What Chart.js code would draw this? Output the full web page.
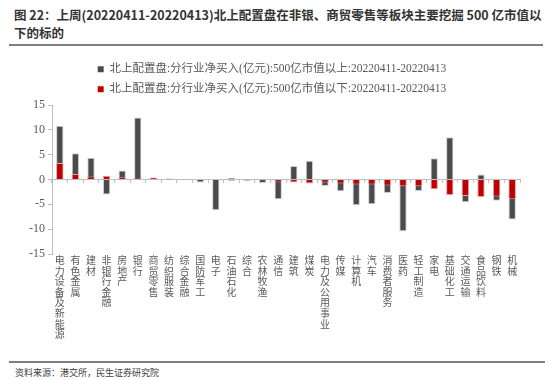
<!DOCTYPE html>
<html>
<head>
<meta charset="utf-8">
<script src="https://cdn.jsdelivr.net/npm/chart.js@4.4.0/dist/chart.umd.min.js"></script>
<style>
  html, body { margin: 0; padding: 0; background: #fff; }
  body { width: 550px; height: 380px; position: relative; overflow: hidden; font-family: 'Noto Sans CJK SC', sans-serif; }
  #title { position: absolute; left: 14px; top: 6px; font-size: 12.5px; font-weight: bold; line-height: 18px; color: #333; white-space: nowrap; }
  #rule1 { position: absolute; left: 9px; top: 44px; width: 534px; height: 2px; background: #7f7f7f; }
  #rule2 { position: absolute; left: 9px; top: 361px; width: 536px; height: 2px; background: #7f7f7f; }
  #source { position: absolute; left: 15px; top: 367px; font-size: 9px; line-height: 12px; color: #404040; white-space: nowrap; }
  #wrap { position: absolute; left: 0; top: 50px; width: 550px; height: 300px; }
</style>
</head>
<body>
<div id="title">图 22：上周(20220411-20220413)北上配置盘在非银、商贸零售等板块主要挖掘 500 亿市值以<br>下的标的</div>
<div id="rule1"></div>
<div id="wrap"><canvas id="c"></canvas></div>
<div id="rule2"></div>
<div id="source">资料来源：港交所，民生证券研究院</div>
<script>
const categories = ['电力设备及新能源','有色金属','建材','非银行金融','房地产','银行','商贸零售','纺织服装','综合金融','国防军工','电子','石油石化','综合','农林牧渔','通信','建筑','煤炭','电力及公用事业','传媒','计算机','汽车','消费者服务','医药','轻工制造','家电','基础化工','交通运输','食品饮料','钢铁','机械'];
const seriesAboveName = '北上配置盘:分行业净买入(亿元):500亿市值以上:20220411-20220413';
const seriesBelowName = '北上配置盘:分行业净买入(亿元):500亿市值以下:20220411-20220413';
const seriesAbove = [10.8, 5.3, 4.4, -3.0, 1.8, 12.5, 0.2, 0.2, 0.05, -0.6, -6.2, 0.35, 0.05, -0.7, -4.0, 2.7, 3.8, -1.3, -2.35, -5.2, -5.0, -2.7, -10.4, -2.3, 4.3, 8.5, -4.6, 1.0, -4.3, -8.05];
const seriesBelow = [3.3, 1.1, 0.6, 0.75, 0.45, 0.35, 0.4, 0.05, 0.12, -0.1, -0.1, -0.25, -0.25, -0.15, -0.4, -0.6, -0.8, -0.6, -0.8, -1.0, -1.0, -1.2, -1.35, -1.35, -1.95, -3.1, -3.3, -3.5, -3.4, -4.0];
const yTicks = [-15, -10, -5, 0, 5, 10, 15];

const serif = "'Liberation Serif', 'Noto Sans CJK SC', serif";
const textColor = '#595959';
const axisColor = '#bfbfbf';

new Chart(document.getElementById('c'), {
  type: 'bar',
  data: {
    labels: categories,
    datasets: [
      { label: seriesAboveName, data: seriesAbove, backgroundColor: '#4b4b4b', borderColor: '#d0d0d0', borderWidth: 1, order: 2, grouped: false, categoryPercentage: 1, barPercentage: 0.47, xAxisID: 'x' },
      { label: seriesBelowName, data: seriesBelow, backgroundColor: '#c00000', borderColor: '#e8a0a0', borderWidth: 1, order: 1, grouped: false, categoryPercentage: 1, barPercentage: 0.47, xAxisID: 'x' }
    ]
  },
  options: {
    responsive: true,
    maintainAspectRatio: false,
    animation: false,
    layout: { padding: { left: 24, right: 30, top: 5, bottom: 4 } },
    plugins: {
      tooltip: { enabled: false },
      legend: {
        position: 'top',
        labels: {
          boxWidth: 6, boxHeight: 6, padding: 8.5,
          color: textColor,
          font: { family: serif, size: 11.5 },
          sort: (a, b) => a.datasetIndex - b.datasetIndex,
          generateLabels: (chart) => {
            const items = Chart.defaults.plugins.legend.labels.generateLabels(chart);
            items.forEach(it => { it.lineWidth = 0; it.strokeStyle = it.fillStyle; });
            return items;
          }
        }
      }
    },
    scales: {
      x: {
        type: 'category',
        position: 'bottom',
        offset: true,
        grid: { display: false, drawTicks: false, offset: true },
        border: { display: false },
        afterFit: (s) => { s.height = 92; },
        ticks: {
          autoSkip: false, maxRotation: 0, minRotation: 0, padding: 2,
          color: textColor,
          font: { family: serif, size: 10, lineHeight: 1.06 },
          callback: function (v) { return this.getLabelForValue(v).split(''); }
        }
      },
      x2: {
        type: 'category',
        axis: 'x',
        labels: categories,
        position: { y: 0 },
        offset: true,
        grid: { offset: true, drawOnChartArea: false, drawTicks: true, tickLength: 3, color: axisColor },
        border: { display: true, color: axisColor, width: 1 },
        ticks: { display: false }
      },
      y: {
        min: -15, max: 15,
        afterFit: (s) => { s.width = 28; },
        afterBuildTicks: (s) => { s.ticks = yTicks.map(v => ({ value: v })); },
        grid: { drawOnChartArea: false, drawTicks: true, tickLength: 4, color: axisColor },
        border: { display: true, color: axisColor, width: 1 },
        ticks: { padding: 3, color: textColor, font: { family: serif, size: 12 } }
      }
    }
  }
});
</script>
</body>
</html>
